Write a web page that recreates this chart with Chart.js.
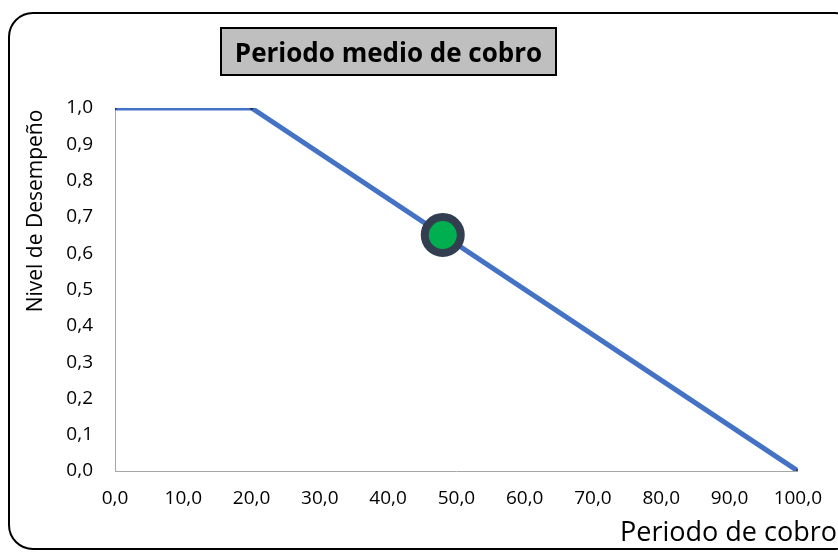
<!DOCTYPE html>
<html>
<head>
<meta charset="utf-8">
<script src="https://cdn.jsdelivr.net/npm/chart.js@4"></script>
<style>
  body { margin: 0; background: #fff; }
  canvas { display: block; }
</style>
</head>
<body>
<canvas id="chart" width="838" height="560"></canvas>
<script>
const chartTitle = "Periodo medio de cobro";
const xAxisTitle = "Periodo de cobro";
const yAxisTitle = "Nivel de Desempeño";

// curve of the performance level
const curveX = [0, 20, 100];
const curveY = [1.0, 1.0, 0.0];

// current value
const currentX = [48];
const currentY = [0.65];

const xTicks = [0, 10, 20, 30, 40, 50, 60, 70, 80, 90, 100];
const yTicks = [0, 0.1, 0.2, 0.3, 0.4, 0.5, 0.6, 0.7, 0.8, 0.9, 1.0];

const FONT = "'Open Sans', sans-serif";
const fmt = (v) => v.toFixed(1).replace(".", ",");

// frame, title box and axis titles
const decorations = {
    id: "decorations",
    beforeDraw(chart) {
        const ctx = chart.ctx;
        ctx.save();
        ctx.fillStyle = "#fff";
        ctx.fillRect(0, 0, chart.width, chart.height);
        ctx.strokeStyle = "#000";
        ctx.lineWidth = 2;
        ctx.beginPath();
        ctx.roundRect(9, 13, 850, 536, 24);
        ctx.stroke();
        ctx.restore();
    },
    afterDraw(chart) {
        const ctx = chart.ctx;
        ctx.save();
        // title box
        ctx.fillStyle = "#bfbfbf";
        ctx.fillRect(221, 28, 335, 47);
        ctx.strokeStyle = "#000";
        ctx.lineWidth = 2;
        ctx.strokeRect(221, 28, 335, 47);
        ctx.fillStyle = "#000";
        ctx.font = "bold 26px " + FONT;
        ctx.textAlign = "center";
        ctx.textBaseline = "alphabetic";
        ctx.fillText(chartTitle, 388.5, 62);

        // x axis title
        ctx.font = "27px " + FONT;
        ctx.textAlign = "left";
        ctx.fillText(xAxisTitle, 620, 541);

        // y axis title
        ctx.translate(42, 211);
        ctx.rotate(-Math.PI / 2);
        ctx.font = "21px " + FONT;
        ctx.textAlign = "center";
        ctx.fillText(yAxisTitle, 0, 0);
        ctx.restore();
    }
};

new Chart(document.getElementById("chart"), {
    type: "scatter",
    data: {
        datasets: [
            {
                label: "Actual",
                data: currentX.map((x, i) => ({ x: x, y: currentY[i] })),
                pointRadius: 18,
                pointBorderWidth: 8,
                pointBackgroundColor: "#00b050",
                pointBorderColor: "#333f50",
                showLine: false,
                order: 0
            },
            {
                label: "Curva",
                data: curveX.map((x, i) => ({ x: x, y: curveY[i] })),
                showLine: true,
                borderColor: "#4472c4",
                borderWidth: 5,
                pointRadius: 2,
                pointBackgroundColor: "#1f3864",
                pointBorderColor: "#1f3864",
                pointBorderWidth: 0,
                order: 1
            }
        ]
    },
    options: {
        responsive: false,
        animation: false,
        layout: { padding: { left: 0, right: 38, top: 108, bottom: 0 } },
        plugins: {
            legend: { display: false },
            tooltip: { enabled: false }
        },
        scales: {
            x: {
                type: "linear",
                min: 0,
                max: 100,
                afterBuildTicks: (axis) => { axis.ticks = xTicks.map((v) => ({ value: v })); },
                afterFit: (axis) => { axis.height = 89; },
                grid: { display: false, drawTicks: false },
                border: { color: "#a6a6a6", width: 1 },
                ticks: {
                    padding: 16,
                    color: "#000",
                    font: { family: FONT, size: 19 },
                    callback: (v) => fmt(v)
                }
            },
            y: {
                type: "linear",
                min: 0,
                max: 1,
                afterBuildTicks: (axis) => { axis.ticks = yTicks.map((v) => ({ value: v })); },
                afterFit: (axis) => { axis.width = 115; },
                grid: { display: false, drawTicks: false },
                border: { color: "#a6a6a6", width: 1 },
                ticks: {
                    padding: 22,
                    color: "#000",
                    font: { family: FONT, size: 19 },
                    callback: (v) => fmt(v)
                }
            }
        }
    },
    plugins: [decorations]
});
</script>
</body>
</html>
